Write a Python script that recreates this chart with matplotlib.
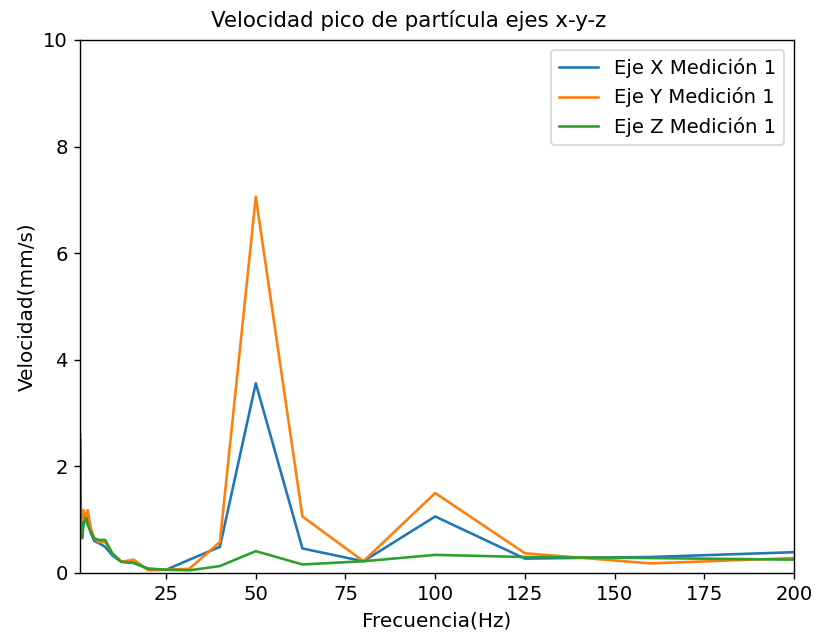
import matplotlib
matplotlib.use("Agg")
import matplotlib.pyplot as plt

# bandas de tercio de octava (Hz)
frecuencia = [1, 1.25, 1.6, 2, 2.5, 3.15, 4, 5, 6.3, 8, 10, 12.5, 16, 20,
              25, 31.5, 40, 50, 63, 80, 100, 125, 160, 200]

# velocidad pico (mm/s) por eje
vel_x = [2.5, 1.0, 0.8, 0.95, 1.0, 1.05, 0.75, 0.6, 0.56, 0.49, 0.33, 0.21,
         0.19, 0.08, 0.06, 0.25, 0.49, 3.56, 0.46, 0.22, 1.06, 0.27, 0.30, 0.39]
vel_y = [2.6, 1.18, 1.0, 1.18, 1.0, 1.18, 0.84, 0.65, 0.58, 0.58, 0.37, 0.21,
         0.25, 0.05, 0.06, 0.08, 0.58, 7.06, 1.06, 0.22, 1.50, 0.37, 0.18, 0.28]
vel_z = [2.6, 0.95, 0.65, 0.9, 1.03, 0.9, 0.77, 0.65, 0.62, 0.62, 0.37, 0.21,
         0.19, 0.08, 0.06, 0.05, 0.13, 0.41, 0.16, 0.22, 0.34, 0.30, 0.28, 0.25]

fig = plt.figure(figsize=(6.536, 5.128), dpi=125)
ax = fig.add_axes([0.0979, 0.1061, 0.8739, 0.8315])

ax.plot(frecuencia, vel_x, label="Eje X Medición 1")
ax.plot(frecuencia, vel_y, label="Eje Y Medición 1")
ax.plot(frecuencia, vel_z, label="Eje Z Medición 1")

ax.set_xlim(frecuencia[0], frecuencia[-1])
ax.set_ylim(0, 10)
ax.set_xticks([25, 50, 75, 100, 125, 150, 175, 200])
ax.tick_params(labelsize=11.3)
fig.suptitle("Velocidad pico de partícula ejes x-y-z", fontsize=12.3, y=0.985)
ax.set_xlabel("Frecuencia(Hz)", fontsize=11.5)
ax.set_ylabel("Velocidad(mm/s)", fontsize=11.5)
ax.legend(loc="upper right", fontsize=11.3)

fig.savefig("out.png", dpi=125)
